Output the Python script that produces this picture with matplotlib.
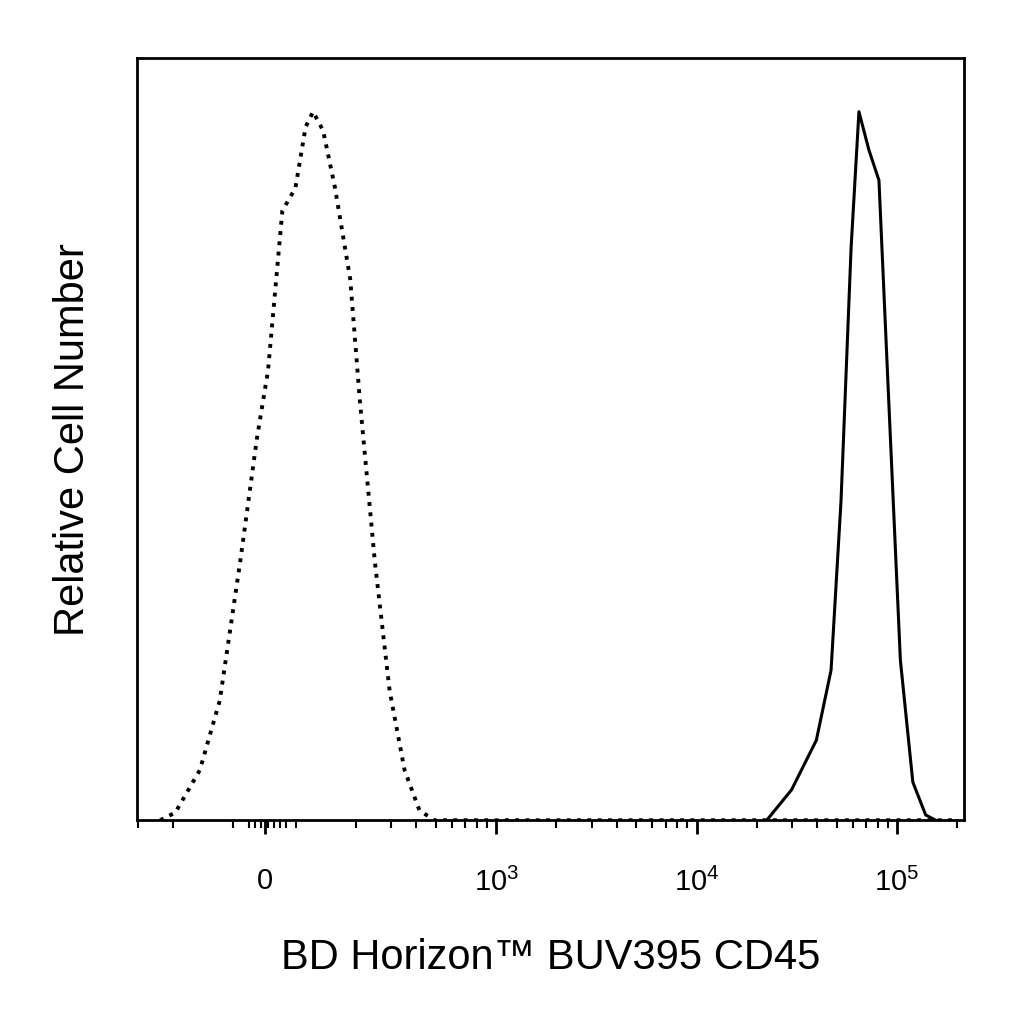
import numpy as np
import matplotlib
matplotlib.use("Agg")
import matplotlib.pyplot as plt

plt.rcParams['font.family'] = ['Liberation Sans', 'DejaVu Sans']
plt.rcParams['mathtext.fontset'] = 'custom'
plt.rcParams['mathtext.rm'] = 'Liberation Sans'
plt.rcParams['mathtext.it'] = 'Liberation Sans'

# isotype control (dotted) - fluorescence values and relative counts
ctrl_x = [-232, -195, -147, -117, -78, -25, 11, 57, 99, 112, 122, 137, 157, 187,
          209, 248, 294, 349, 414, 491, 2.0e5]
ctrl_y = [0, 1, 6.6, 15.7, 34, 50, 59, 80, 83, 91, 93, 90.5, 83, 71,
          55, 34, 17, 6.6, 1.3, 0, 0]

# CD45 stained (solid)
cd45_x = [22400, 29800, 39600, 46900, 52600, 59000, 64600, 72400, 81300, 91000,
          104000, 120000, 139000, 156000]
cd45_y = [0, 4, 10.5, 19.7, 42, 75, 93, 88, 84, 55, 21, 5, 0.7, 0]

major_ticks = [0, 1e3, 1e4, 1e5]
major_labels = ['0', r'$10^3$', r'$10^4$', r'$10^5$']

fig = plt.figure(figsize=(10.24, 10.24), dpi=100)
ax = fig.add_axes([0.134, 0.199, 0.807, 0.744])
ax.set_xscale('symlog', linthresh=100, linscale=0.14)

ax.plot(ctrl_x, ctrl_y, color='black', linestyle=':', linewidth=2.8)
ax.plot(cd45_x, cd45_y, color='black', linestyle='-', linewidth=2.2)

ax.set_xlim(-302, 2.15e5)
ax.set_ylim(0, 100)

minor = [-50, -30, -10, 10, 30, 50, 70]
for s in [-1, 1]:
    for k in range(1, 10):
        minor.append(s * k * 100)
for dec in [1e3, 1e4]:
    for k in range(2, 10):
        minor.append(k * dec)
minor.append(2e5)
minor = [m for m in minor if -302 < m < 2.15e5]
ax.set_xticks(major_ticks)
ax.set_xticklabels(major_labels)
ax.set_xticks(minor, minor=True)
ax.set_yticks([])

ax.tick_params(axis='x', which='major', length=10, width=2, labelsize=21, pad=24)
ax.tick_params(axis='x', which='minor', length=6, width=1.5)
for sp in ax.spines.values():
    sp.set_linewidth(2)

ax.set_xlabel('BD Horizon™ BUV395 CD45', fontsize=30, labelpad=30)
ax.set_ylabel('Relative Cell Number', fontsize=30, labelpad=32)

fig.savefig('out.png', dpi=100)
